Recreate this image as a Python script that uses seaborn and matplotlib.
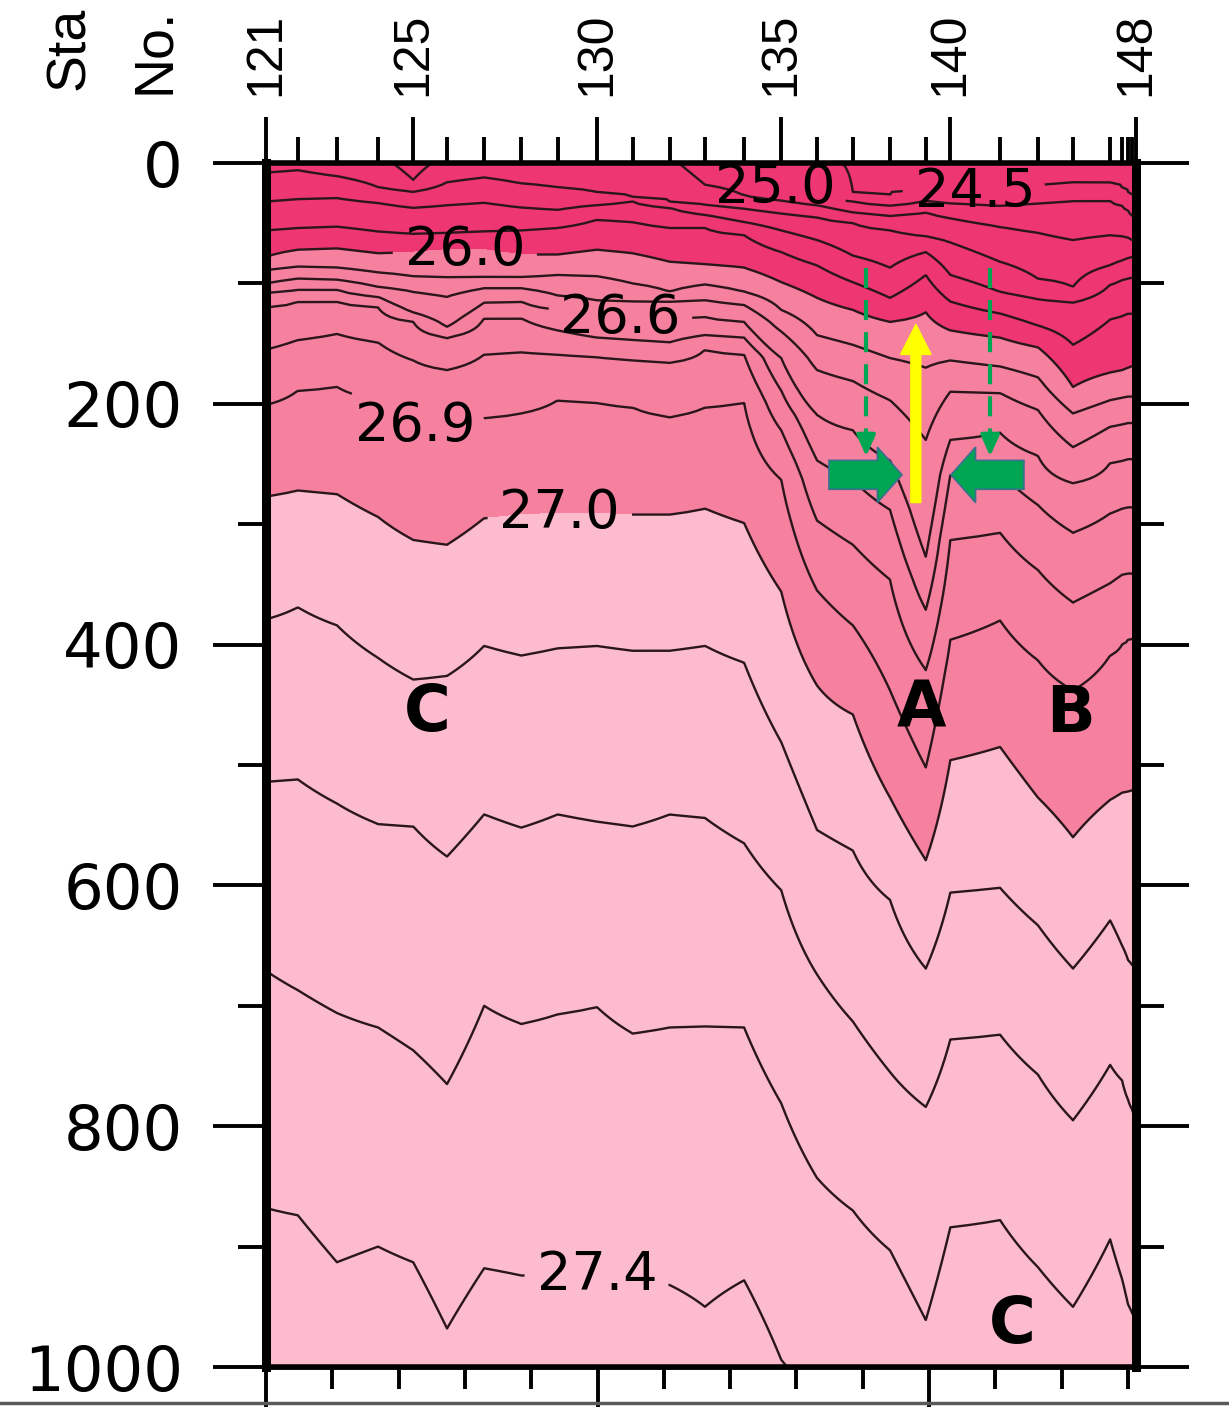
import numpy as np
import matplotlib
matplotlib.use("Agg")
import matplotlib.pyplot as plt
from matplotlib.lines import Line2D
from matplotlib.patches import FancyArrow
import seaborn as sns

####################################################################################
# section data

station_no = list(range(121, 149))
# along-track position of every station (km from Sta 121)
station_km = [0.0, 4.8, 10.7, 16.9, 22.2, 27.3, 32.9, 38.5, 44.0, 49.9,
              55.3, 60.9, 66.2, 72.1, 77.7, 83.1, 88.5, 94.1, 99.5, 103.2,
              110.7, 116.4, 121.7, 127.3, 129.1, 130.0, 130.6, 131.2]
labelled_stations = [121, 125, 130, 135, 140, 148]

sigma_levels = [24.5, 25.0, 25.2, 25.4, 25.6, 25.8, 26.0, 26.2, 26.4,
                26.6, 26.7, 26.8, 26.9, 27.0, 27.1, 27.2, 27.3, 27.4]

# depth (m) of each isopycnal at each station, negative = outcropped
d245 = [-30, -30, -30, -30, -30, -30, -30, -30, -30, -30, -30, -30, -30, -30,
        -30, -10, 24, 27, 22, 24, 24, 22, 16, 17, 21, 24, 27, 31]
d250 = [-20, -20, -20, -20, -20, -20, -20, -20, -20, -20, -20, -20, -20, -4,
        24, 28, 32, 35, 31, 33, 35, 33, 31, 31, 35, 39, 43, 47]
d252 = [-10, -10, -10, -8, 14, -8, -10, -10, -10, -10, -10, -6, 18, 27,
        31, 35, 41, 44, 41, 46, 53, 58, 64, 60, 61, 62, 64, 66]
d254 = [8, 6, 11, 20, 24, 16, 12, 17, 20, 24, 28, 32, 35, 38,
        42, 45, 50, 56, 61, 66, 82, 96, 103, 85, 81, 79, 78, 77]
d256 = [32, 30, 29, 33, 37, 35, 33, 37, 39, 35, 32, 37, 43, 49,
        56, 64, 77, 87, 74, 93, 107, 113, 116, 101, 97, 96, 95, 94]
d258 = [56, 54, 53, 57, 59, 58, 57, 56, 54, 47, 49, 54, 54, 60,
        74, 85, 99, 112, 93, 115, 125, 135, 151, 130, 127, 125, 125, 124]
d260 = [78, 72, 71, 75, 74, 72, 72, 76, 76, 72, 75, 82, 84, 87,
        99, 112, 122, 132, 124, 139, 145, 153, 186, 174, 172, 170, 169, 169]
d262 = [89, 86, 87, 91, 94, 95, 95, 95, 93, 94, 100, 107, 101, 107,
        122, 143, 151, 162, 170, 164, 169, 178, 208, 197, 195, 194, 194, 194]
d264 = [100, 96, 97, 103, 107, 111, 104, 104, 110, 114, 115, 115, 114, 118,
        140, 172, 181, 197, 230, 190, 191, 205, 236, 219, 217, 216, 216, 216]
d266 = [108, 105, 105, 111, 124, 136, 116, 115, 122, 128, 129, 129, 128, 132,
        162, 209, 222, 247, 327, 230, 224, 243, 266, 249, 247, 246, 246, 246]
d267 = [120, 115, 115, 120, 132, 145, 129, 129, 139, 145, 147, 149, 143, 145,
        189, 247, 263, 288, 371, 259, 257, 284, 307, 291, 287, 286, 286, 286]
d268 = [155, 147, 142, 149, 164, 172, 159, 157, 159, 161, 164, 166, 155, 159,
        222, 297, 317, 346, 421, 313, 307, 338, 365, 349, 342, 341, 341, 341]
d269 = [201, 189, 186, 197, 218, 223, 212, 208, 197, 199, 203, 211, 203, 199,
        263, 355, 384, 438, 502, 396, 380, 413, 438, 409, 400, 396, 395, 394]
d270 = [277, 272, 275, 294, 313, 317, 295, 292, 291, 291, 292, 292, 287, 299,
        356, 434, 458, 527, 579, 496, 485, 527, 560, 529, 523, 522, 521, 521]
d271 = [379, 369, 384, 411, 429, 426, 401, 409, 403, 401, 405, 405, 401, 415,
        481, 554, 571, 612, 669, 606, 602, 633, 669, 629, 650, 662, 666, 668]
d272 = [514, 512, 532, 549, 551, 576, 541, 552, 541, 547, 551, 541, 544, 565,
        604, 674, 713, 755, 784, 728, 724, 757, 795, 749, 762, 778, 786, 794]
d273 = [671, 687, 706, 718, 737, 765, 700, 715, 707, 701, 723, 718, 717, 718,
        781, 843, 870, 903, 961, 884, 878, 917, 950, 894, 927, 948, 955, 962]
d274 = [868, 874, 913, 900, 913, 968, 918, 924, 924, 924, 926, 932, 950, 928,
        994, 1040, 1060, 1080, 1110, 1080, 1075, 1090, 1110, 1070, 1090, 1100, 1105, 1110]

# contour labels (level, km, depth) and water-mass letters
label_spots = [(25.0, 76.0, 27), (24.5, 106.9, 27), (26.0, 30.0, 71),
               (26.6, 53.4, 128), (26.9, 22.2, 223), (27.0, 44.3, 292),
               (27.4, 49.9, 921)]
letters = [("A", 98.9, 454), ("B", 121.3, 458), ("C", 24.4, 457), ("C", 112.5, 965)]

deep, mid, light = "#ee3672", "#f5819f", "#fcbcce"
green = "#00a651"
line_col = "#2a161b"

####################################################################################

def build_field(km, depth_table):
    # sigma-theta on a regular depth grid, column by column from isopycnal depths
    z = np.arange(0, 1001, 2.0)
    field = np.empty((z.size, len(km)))
    ss = np.r_[24.0, sigma_levels, 27.6]
    for j in range(len(km)):
        zz = np.r_[-200.0, depth_table[:, j], 1300.0]
        field[:, j] = np.interp(z, zz, ss)
    return z, field

####################################################################################

def plotSection():
    sns.set_theme(style="white")
    plt.rcParams["font.family"] = ["DejaVu Sans"]
    plt.rcParams["text.color"] = "black"

    km = np.array(station_km)
    table = np.array([d245, d250, d252, d254, d256, d258, d260, d262, d264,
                      d266, d267, d268, d269, d270, d271, d272, d273, d274], float)
    z, field = build_field(km, table)

    fig = plt.figure(figsize=(12.29, 14.07), dpi=100)
    ax = fig.add_axes([266 / 1229, 1 - 1367 / 1407, 870 / 1229, 1204 / 1407])

    ax.contourf(km, z, field, levels=[20, 26.0, 27.0, 30], colors=[deep, mid, light])
    labelled_levels = [s[0] for s in label_spots]
    plain = [l for l in sigma_levels if l not in labelled_levels]
    ax.contour(km, z, field, levels=plain, colors=line_col, linewidths=1.7)
    ax.set_xlim(km[0], km[-1])
    ax.set_ylim(1000, 0)

    # station axis on top
    major_km = [km[station_no.index(s)] for s in labelled_stations]
    minor_km = [k for s, k in zip(station_no, km) if s not in labelled_stations]
    ax.xaxis.tick_top()
    ax.set_xticks(major_km)
    ax.set_xticks(minor_km, minor=True)
    ax.set_xticklabels([str(s) for s in labelled_stations], rotation=90,
                       fontsize=36, family=["Liberation Sans", "DejaVu Sans"])
    ax.tick_params(axis="x", which="major", length=33, width=2.8, direction="out",
                   pad=15, top=True, bottom=False, colors="black")
    ax.tick_params(axis="x", which="minor", length=19, width=2.8, direction="out",
                   top=True, bottom=False, colors="black")

    # depth axis
    ax.set_yticks(range(0, 1001, 200))
    ax.set_yticks(range(100, 1000, 200), minor=True)
    ax.tick_params(axis="y", which="major", length=38, width=2.8, direction="out",
                   left=True, right=True, labelsize=45, pad=22, colors="black")
    ax.tick_params(axis="y", which="minor", length=20, width=2.8, direction="out",
                   left=True, right=True, colors="black")

    # distance ticks along the bottom (10 km)
    sec = ax.secondary_xaxis("bottom")
    sec.set_xticks([0, 50, 100])
    sec.set_xticks([10, 20, 30, 40, 60, 70, 80, 90, 110, 120, 130], minor=True)
    sec.tick_params(axis="x", which="major", length=32, width=2.8, direction="out",
                    labelbottom=False, colors="black")
    sec.tick_params(axis="x", which="minor", length=16, width=2.8, direction="out",
                    colors="black")
    sec.spines["bottom"].set_linewidth(4)

    for side, lw in [("left", 6.5), ("right", 6.5), ("top", 4), ("bottom", 4)]:
        ax.spines[side].set_visible(True)
        ax.spines[side].set_linewidth(lw)
        ax.spines[side].set_color("black")

    # labelled isopycnals, one contour set each, label kept horizontal
    for lev, x, y in label_spots:
        cs = ax.contour(km, z, field, levels=[lev], colors=line_col, linewidths=1.7)
        txts = cs.clabel(manual=[(x, y)], fmt="%.1f", fontsize=39,
                         inline=True, inline_spacing=12, colors="black")
        for t in txts:
            t.set_rotation(0)

    for ch, x, y in letters:
        ax.text(x, y, ch, ha="center", va="center", fontsize=46,
                fontweight="bold", color="black")

    # annotation arrows
    ax.add_patch(FancyArrow(98.0, 282, 0, -148, width=1.5, head_width=4.6,
                            head_length=25, length_includes_head=True,
                            color="#ffff00", zorder=6))
    for x0, dx in [(84.9, 11.0), (114.3, -11.0)]:
        ax.add_patch(FancyArrow(x0, 259, dx, 0, width=24, head_width=46,
                                head_length=3.7, length_includes_head=True,
                                facecolor=green, edgecolor="#3a6f8f", lw=1.2, zorder=6))
    for x0 in [90.5, 109.2]:
        ax.plot([x0, x0], [87, 232], ls=(0, (4.8, 2.9)), lw=3, color=green, zorder=6)
        ax.annotate("", xy=(x0, 246), xytext=(x0, 228),
                    arrowprops=dict(arrowstyle="-|>,head_width=0.4,head_length=0.9",
                                    color=green, lw=3, mutation_scale=14), zorder=6)

    fam = ["Liberation Sans", "DejaVu Sans"]
    fig.text(70 / 1229, 1 - 48 / 1407, "Sta", rotation=90, ha="center", va="center",
             fontsize=40, family=fam, color="black")
    fig.text(155 / 1229, 1 - 51 / 1407, "No.", rotation=90, ha="center", va="center",
             fontsize=40, family=fam, color="black")
    fig.add_artist(Line2D([0, 1], [0.0025, 0.0025], transform=fig.transFigure,
                          color="#5a5a5a", lw=2.5))

    fig.savefig("out.png", dpi=100)

####################################################################################

if __name__ == "__main__":
    plotSection()
